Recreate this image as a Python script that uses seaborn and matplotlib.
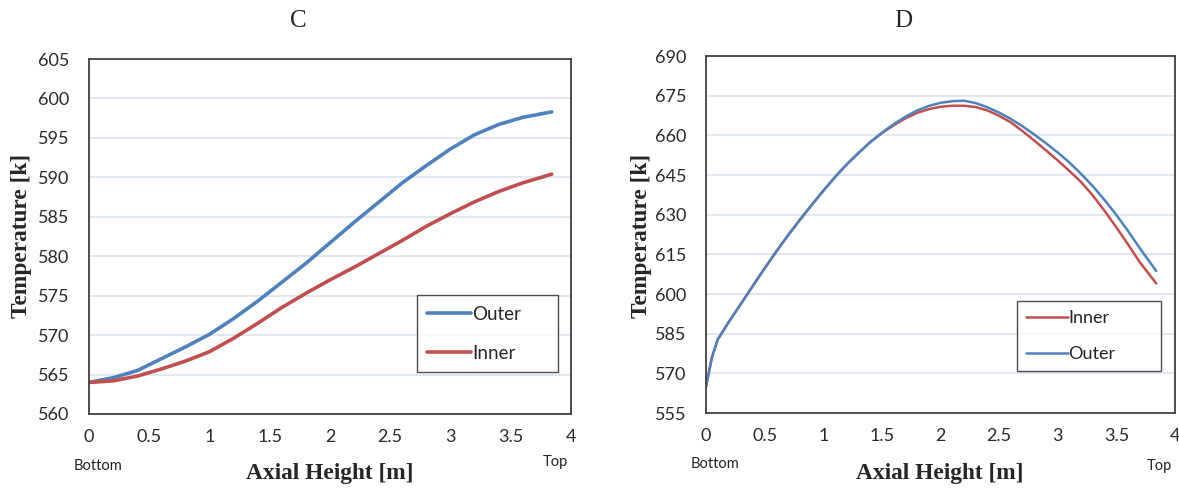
import numpy as np
import pandas as pd
import seaborn as sns
import matplotlib.pyplot as plt
from matplotlib.ticker import MultipleLocator

# chart C: temperature along axial height
c_x = [0, 0.2, 0.4, 0.6, 0.8, 1.0, 1.2, 1.4, 1.6, 1.8, 2.0, 2.2, 2.4,
       2.6, 2.8, 3.0, 3.2, 3.4, 3.6, 3.84]
c_outer = [564.0, 564.6, 565.5, 567.0, 568.5, 570.1, 572.1, 574.3, 576.7,
           579.1, 581.7, 584.3, 586.8, 589.3, 591.5, 593.6, 595.4, 596.7,
           597.6, 598.3]
c_inner = [564.0, 564.2, 564.8, 565.7, 566.7, 567.9, 569.6, 571.5, 573.5,
           575.3, 577.0, 578.6, 580.3, 582.0, 583.8, 585.4, 586.9, 588.2,
           589.3, 590.4]

# chart D
d_x = [0, 0.05, 0.1, 0.2, 0.3, 0.4, 0.5, 0.6, 0.7, 0.8, 0.9, 1.0, 1.1, 1.2,
       1.3, 1.4, 1.5, 1.6, 1.7, 1.8, 1.9, 2.0, 2.1, 2.2, 2.3, 2.4, 2.5, 2.6,
       2.7, 2.8, 2.9, 3.0, 3.1, 3.2, 3.3, 3.4, 3.5, 3.6, 3.7, 3.84]
d_outer = [565.0, 576.0, 582.8, 589.8, 596.4, 603.1, 609.7, 616.1, 622.2,
           628.0, 633.6, 639.0, 644.2, 649.0, 653.3, 657.4, 661.0, 664.2,
           667.0, 669.4, 671.1, 672.3, 672.9, 673.1, 672.2, 670.6, 668.6,
           666.2, 663.4, 660.3, 657.0, 653.5, 649.7, 645.4, 640.7, 635.5,
           629.9, 623.8, 617.3, 608.7]
d_inner = [565.0, 576.0, 582.8, 589.8, 596.4, 603.1, 609.7, 616.1, 622.2,
           628.0, 633.6, 639.0, 644.2, 649.0, 653.3, 657.4, 660.8, 663.8,
           666.4, 668.5, 669.9, 670.8, 671.2, 671.2, 670.7, 669.4, 667.4,
           664.9, 661.6, 658.0, 654.3, 650.5, 646.5, 642.3, 637.2, 631.4,
           625.2, 618.7, 612.0, 604.0]

BLUE = '#4f81bd'
RED = '#c0504d'
W, H = 1179, 488

sns.set_style('white')
plt.rcParams['font.family'] = ['Lato', 'DejaVu Sans']

fig = plt.figure(figsize=(W / 100, H / 100), dpi=100)


def px_axes(x0, y0, x1, y1):
    return fig.add_axes([x0 / W, 1 - y1 / H, (x1 - x0) / W, (y1 - y0) / H])


def style(ax, ylim, ystep):
    ax.set_xlim(0, 4)
    ax.set_ylim(*ylim)
    ax.xaxis.set_major_locator(MultipleLocator(0.5))
    ax.xaxis.set_minor_locator(MultipleLocator(0.25))
    ax.yaxis.set_major_locator(MultipleLocator(ystep))
    ax.yaxis.set_minor_locator(MultipleLocator(ystep / 2))
    ax.xaxis.set_major_formatter(plt.FuncFormatter(lambda v, p: f'{v:g}'))
    ax.tick_params(which='both', direction='in', length=5, width=1.2,
                   color='#333333', labelsize=13, labelcolor='#2a2a2a')
    ax.tick_params(axis='x', which='major', pad=11)
    ax.tick_params(axis='y', which='major', pad=14)
    ax.grid(axis='y', which='major', color='#d9e2ec', linewidth=1.1)
    ax.set_axisbelow(True)
    for s in ax.spines.values():
        s.set_color('#404040')
        s.set_linewidth(1.3)
    ax.set_xlabel('')
    ax.set_ylabel('')


# ---- C ----
ax1 = px_axes(89, 59, 571, 414)
dfc = pd.DataFrame({'x': c_x + c_x,
                    'T': c_outer + c_inner,
                    's': ['Outer'] * len(c_x) + ['Inner'] * len(c_x)})
sns.lineplot(data=dfc, x='x', y='T', hue='s', hue_order=['Outer', 'Inner'],
             palette=[BLUE, RED], linewidth=2.6, ax=ax1)
style(ax1, (560, 605), 5)
leg = ax1.legend(loc='lower left', bbox_to_anchor=((417 - 89) / 482, (414 - 372) / 355,
                                                   141 / 482, 80 / 355),
                 mode='expand', frameon=True, fancybox=False, fontsize=13.5,
                 handlelength=2.35, handletextpad=0.05, labelspacing=1.19,
                 borderpad=0.54, borderaxespad=0)
leg.get_frame().set_edgecolor('#222222')
leg.get_frame().set_linewidth(1.0)

# ---- D ----
ax2 = px_axes(706, 56, 1175, 413)
dfd = pd.DataFrame({'x': d_x + d_x,
                    'T': d_inner + d_outer,
                    's': ['Inner'] * len(d_x) + ['Outer'] * len(d_x)})
sns.lineplot(data=dfd, x='x', y='T', hue='s', hue_order=['Inner', 'Outer'],
             palette=[RED, BLUE], linewidth=1.8, ax=ax2)
style(ax2, (555, 690), 15)
leg2 = ax2.legend(loc='lower left', bbox_to_anchor=((1017 - 706) / 469, (413 - 371) / 357,
                                                    144 / 469, 74 / 357),
                  mode='expand', frameon=True, fancybox=False, fontsize=13,
                  handlelength=2.3, handletextpad=0.05, labelspacing=1.1,
                  borderpad=0.5, borderaxespad=0)
leg2.get_frame().set_edgecolor('#222222')
leg2.get_frame().set_linewidth(1.0)

# ---- texts ----
serif = ['Liberation Serif', 'DejaVu Serif']


def ftext(x, y, s, **kw):
    fig.text(x / W, 1 - y / H, s, ha='center', va='center', **kw)


ftext(298, 21, 'C', family=serif, fontsize=18)
ftext(903, 21, 'D', family=serif, fontsize=18)
ftext(330, 474, 'Axial Height [m]', family=serif, fontsize=16.8, fontweight='bold')
ftext(940, 474, 'Axial Height [m]', family=serif, fontsize=16.8, fontweight='bold')
ftext(22, 236, 'Temperature [k]', family=serif, fontsize=16.8, fontweight='bold', rotation=90)
ftext(641, 236, 'Temperature [k]', family=serif, fontsize=16.8, fontweight='bold', rotation=90)
ftext(98, 466, 'Bottom', fontsize=10.5, color='#222222')
ftext(555, 462, 'Top', fontsize=10.5, color='#222222')
ftext(715, 464, 'Bottom', fontsize=10.5, color='#222222')
ftext(1159, 466, 'Top', fontsize=10.5, color='#222222')

fig.savefig('out.png', dpi=100, facecolor='white')
